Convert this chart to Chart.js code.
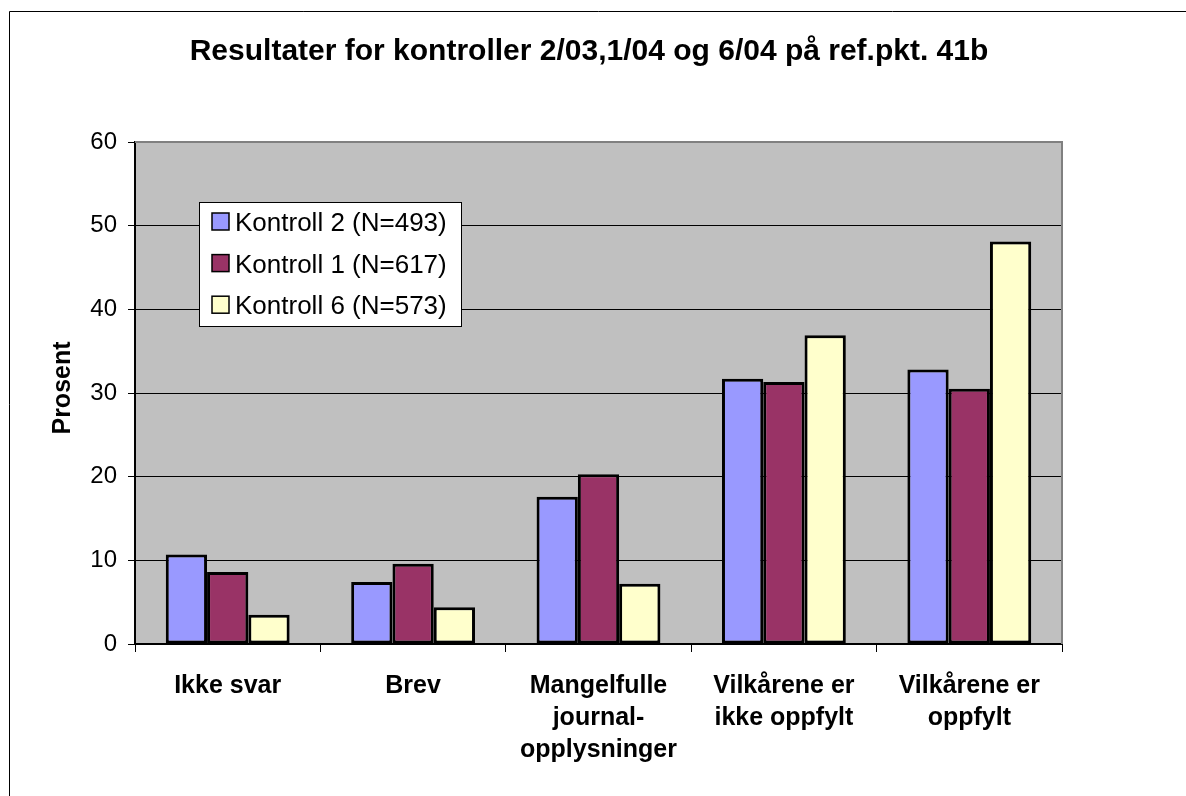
<!DOCTYPE html>
<html>
<head>
<meta charset="utf-8">
<script src="https://cdn.jsdelivr.net/npm/chart.js@4/dist/chart.umd.min.js"></script>
<style>
html,body{margin:0;padding:0;background:#fff;}
#wrap{width:1186px;height:796px;position:relative;}
</style>
</head>
<body>
<div id="wrap"><canvas id="c" width="1186" height="796"></canvas></div>
<script>
const chartTitle = 'Resultater for kontroller 2/03,1/04 og 6/04 på ref.pkt. 41b';
const yAxisTitle = 'Prosent';
const categories = [
  ['Ikke svar'],
  ['Brev'],
  ['Mangelfulle', 'journal-', 'opplysninger'],
  ['Vilkårene er', 'ikke oppfylt'],
  ['Vilkårene er', 'oppfylt']
];
const seriesNames = ['Kontroll 2 (N=493)', 'Kontroll 1 (N=617)', 'Kontroll 6 (N=573)'];
const kontroll2 = [10.7, 7.4, 17.6, 31.7, 32.8];
const kontroll1 = [8.6, 9.6, 20.3, 31.3, 30.5];
const kontroll6 = [3.5, 4.4, 7.2, 36.9, 48.1];
const yTicks = [0, 10, 20, 30, 40, 50, 60];
const seriesColors = ['#9999FF', '#993366', '#FFFFCC'];

const FONT = '"Liberation Sans", Arial, sans-serif';

const decor = {
  id: 'decor',
  beforeDraw(chart) {
    const ctx = chart.ctx;
    const a = chart.chartArea;
    ctx.save();
    ctx.fillStyle = '#fff';
    ctx.fillRect(0, 0, chart.width, chart.height);
    ctx.strokeStyle = '#000';
    ctx.lineWidth = 1;
    ctx.beginPath();
    ctx.moveTo(9.5, chart.height + 5);
    ctx.lineTo(9.5, 11.5);
    ctx.lineTo(chart.width + 5, 11.5);
    ctx.stroke();
    ctx.fillStyle = '#C0C0C0';
    ctx.fillRect(a.left, a.top, a.right - a.left, a.bottom - a.top);
    ctx.restore();
  },
  afterDraw(chart) {
    const ctx = chart.ctx;
    const a = chart.chartArea;
    ctx.save();
    ctx.strokeStyle = '#808080';
    ctx.lineWidth = 2;
    ctx.beginPath();
    ctx.moveTo(a.left, a.top);
    ctx.lineTo(a.right, a.top);
    ctx.lineTo(a.right, a.bottom);
    ctx.stroke();
    // title
    ctx.fillStyle = '#000';
    ctx.font = 'bold 30px ' + FONT;
    ctx.textAlign = 'center';
    ctx.textBaseline = 'middle';
    ctx.fillText(chartTitle, 589, 52);
    // y title
    ctx.save();
    ctx.translate(63, 388);
    ctx.rotate(-Math.PI / 2);
    ctx.font = 'bold 25px ' + FONT;
    ctx.fillText(yAxisTitle, 0, 0);
    ctx.restore();
    // legend
    const lx = 199, ly = 202, lw = 262, lh = 124;
    ctx.fillStyle = '#fff';
    ctx.fillRect(lx, ly, lw, lh);
    ctx.strokeStyle = '#000';
    ctx.lineWidth = 1;
    ctx.strokeRect(lx + 0.5, ly + 0.5, lw, lh);
    ctx.font = '26px ' + FONT;
    ctx.textAlign = 'left';
    ctx.textBaseline = 'middle';
    chart.data.datasets.forEach((ds, i) => {
      const cy = 222 + i * 41.6;
      ctx.fillStyle = ds.backgroundColor;
      ctx.fillRect(212, cy - 9, 17, 17);
      ctx.strokeStyle = '#000';
      ctx.lineWidth = 1.5;
      ctx.strokeRect(212, cy - 9, 17, 17);
      ctx.fillStyle = '#000';
      ctx.fillText(ds.label, 235, cy + 2);
    });
    ctx.restore();
  }
};

const mk = (i, data) => ({
  label: seriesNames[i],
  data: data,
  backgroundColor: seriesColors[i],
  borderColor: '#000',
  borderWidth: 3,
  borderSkipped: false,
  categoryPercentage: 0.668,
  barPercentage: 1.0
});

new Chart(document.getElementById('c'), {
  type: 'bar',
  data: {
    labels: categories,
    datasets: [mk(0, kontroll2), mk(1, kontroll1), mk(2, kontroll6)]
  },
  options: {
    responsive: false,
    animation: false,
    devicePixelRatio: 1,
    layout: { padding: { left: 0, top: 142, right: 124, bottom: 0 } },
    plugins: { legend: { display: false }, title: { display: false }, tooltip: { enabled: false } },
    scales: {
      x: {
        afterFit(s) { s.height = 796 - 644; },
        grid: { display: true, drawOnChartArea: false, color: '#000', tickLength: 8, offset: true },
        border: { display: true, color: '#000', width: 2 },
        ticks: {
          color: '#000',
          font: { family: FONT, size: 25, weight: 'bold', lineHeight: 1.28 },
          padding: 18,
          maxRotation: 0,
          autoSkip: false
        }
      },
      y: {
        min: 0, max: 60,
        afterFit(s) { s.width = 135; },
        afterBuildTicks(s) { s.ticks = yTicks.map(v => ({ value: v })); },
        grid: { color: '#000', lineWidth: 1, tickLength: 7, drawTicks: true },
        border: { display: true, color: '#000', width: 2 },
        ticks: {
          color: '#000',
          font: { family: FONT, size: 24 },
          padding: 11
        }
      }
    }
  },
  plugins: [decor]
});
</script>
</body>
</html>
